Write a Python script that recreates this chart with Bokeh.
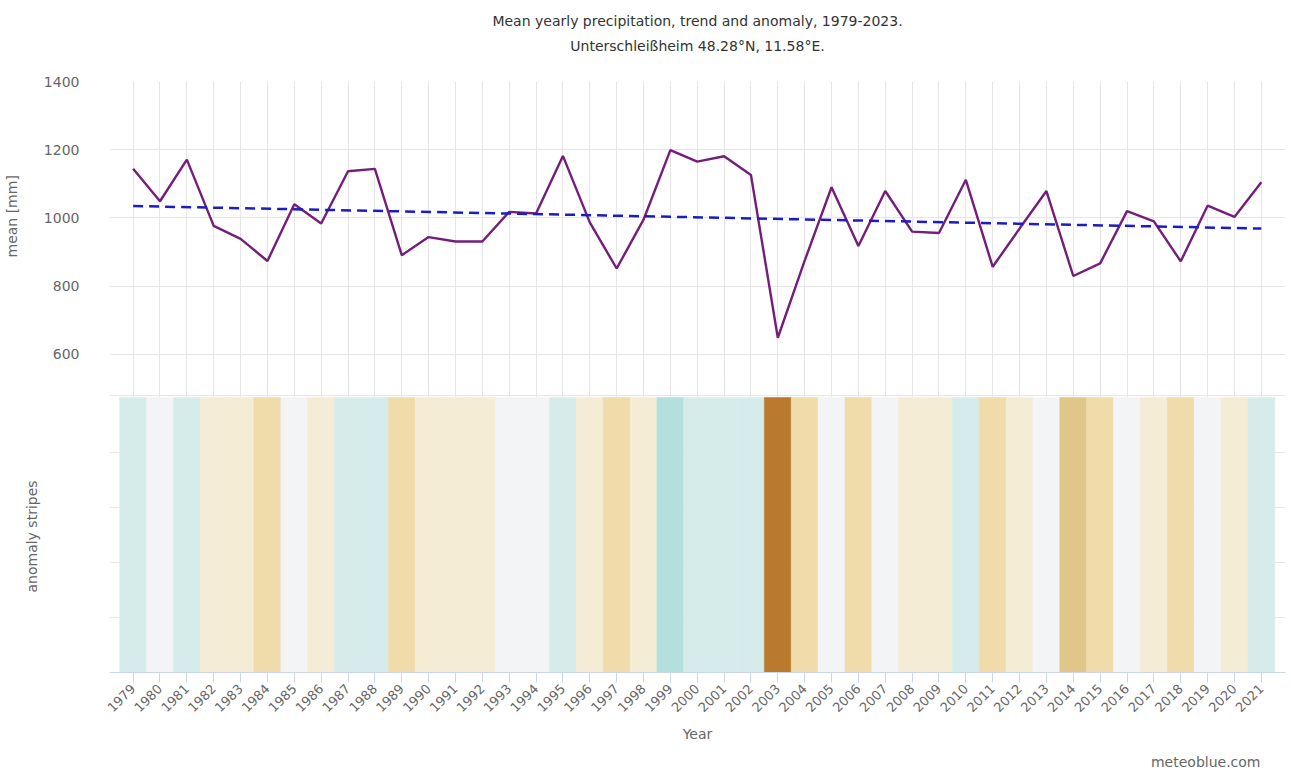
import math
from bokeh.plotting import figure
from bokeh.models import Range1d, FixedTicker, Grid, ColumnDataSource, Title
from bokeh.embed import file_html
from bokeh.resources import INLINE

# ---------------- data ----------------
years = list(range(1979, 2022))
precip = [1144, 1049, 1171, 977, 939, 874, 1040, 984, 1137, 1144,
          891, 944, 931, 931, 1018, 1013, 1182, 987, 852, 995,
          1199, 1165, 1181, 1126, 649, 875, 1090, 918, 1079, 960,
          956, 1112, 857, 969, 1079, 830, 867, 1020, 990, 873,
          1036, 1003, 1105]
trend_years = [1979, 2021]
trend_values = [1035, 969]
# anomaly class per year: -4 strong dry ... +2 wet
anomaly_class = [1, 0, 1, -1, -1, -2, 0, -1, 1, 1,
                 -2, -1, -1, -1, 0, 0, 1, -1, -2, -1,
                 2, 1, 1, 1, -4, -2, 0, -2, 0, -1,
                 -1, 1, -2, -1, 0, -3, -2, 0, -1, -2,
                 0, -1, 1]
y_ticks = [600, 800, 1000, 1200, 1400]
title1 = "Mean yearly precipitation, trend and anomaly, 1979-2023."
title2 = "Unterschleißheim 48.28°N, 11.58°E."

palette = {-4: "#b97a2e", -3: "#e0c789", -2: "#f0dcab", -1: "#f5ecd6",
           0: "#f3f4f5", 1: "#d6ecea", 2: "#b3e0dc"}

# ---------------- layout constants ----------------
Y_TOP = 1400
Y_BOT = -332
STRIPE_TOP = 474
FONT = "DejaVu Sans"
GRID_C = "#e6e6e6"
TEXT_C = "#666666"

p = figure(width=1291, height=776, output_backend="svg", toolbar_location=None,
           title=None,
           x_range=Range1d(1978.12, 2021.9), y_range=Range1d(Y_BOT, Y_TOP),
           min_border_left=107, min_border_right=6, min_border_top=81,
           min_border_bottom=104)
p.outline_line_color = None
p.background_fill_color = "white"
p.border_fill_color = "white"

# stripes
src = ColumnDataSource(dict(
    left=[y - 0.5 for y in years], right=[y + 0.5 for y in years],
    color=[palette[c] for c in anomaly_class]))
p.quad(left="left", right="right", bottom=Y_BOT, top=STRIPE_TOP,
       fill_color="color", line_color="color", line_width=0.6, source=src)

# precipitation line and trend
p.line(years, precip, line_color="#741d7a", line_width=2.4)
p.line(trend_years, trend_values, line_color="#1c1cc4", line_width=2.5,
       line_dash="10 6")

# axes
p.yaxis.ticker = FixedTicker(ticks=y_ticks)
p.yaxis.axis_line_color = None
p.yaxis.major_tick_line_color = None
p.yaxis.major_tick_out = 0
p.yaxis.major_tick_in = 0
p.yaxis.minor_tick_line_color = None
p.yaxis.major_label_standoff = 30
p.yaxis.major_label_text_font = FONT
p.yaxis.major_label_text_font_size = "14px"
p.yaxis.major_label_text_color = TEXT_C

p.xaxis.ticker = FixedTicker(ticks=years)
p.xaxis.axis_line_color = "#ccd6eb"
p.xaxis.major_tick_line_color = "#ccd6eb"
p.xaxis.major_tick_out = 10
p.xaxis.major_tick_in = 0
p.xaxis.minor_tick_line_color = None
p.xaxis.major_label_orientation = math.pi / 4
p.xaxis.major_label_standoff = 4
p.xaxis.major_label_text_font = FONT
p.xaxis.major_label_text_font_size = "13px"
p.xaxis.major_label_text_color = TEXT_C
p.xaxis.axis_label = "Year"
p.xaxis.axis_label_text_font = FONT
p.xaxis.axis_label_text_font_size = "14px"
p.xaxis.axis_label_text_font_style = "normal"
p.xaxis.axis_label_text_color = TEXT_C
p.xaxis.axis_label_standoff = 7

p.xgrid.grid_line_color = GRID_C
p.ygrid.grid_line_color = GRID_C
p.ygrid.ticker = FixedTicker(ticks=y_ticks + [480])

band = (STRIPE_TOP - Y_BOT) / 5.0
lower_grid = Grid(dimension=1, ticker=FixedTicker(ticks=[STRIPE_TOP - i * band for i in range(1, 5)]),
                  grid_line_color=GRID_C)
p.add_layout(lower_grid)

# titles (inner first)
def ttl(text, side, size="14px", color="#333333", align="center", offset=0,
        standoff=10, valign="bottom"):
    p.add_layout(Title(text=text, align=align, offset=offset, standoff=standoff,
                       vertical_align=valign,
                       text_font=FONT, text_font_size=size, text_color=color,
                       text_font_style="normal"), side)

ttl(" ", "above", standoff=8)          # spacer between plot and subtitle
ttl(title2, "above", standoff=4)
ttl(title1, "above", standoff=10)
ttl("anomaly stripes", "left", color=TEXT_C, align="left", offset=80, standoff=2)
ttl("mean [mm]", "left", color=TEXT_C, align="left", offset=415, standoff=2)
ttl("meteoblue.com", "below", color=TEXT_C, align="right", offset=25, standoff=13)

open("out.html", "w").write(file_html(p, INLINE))
